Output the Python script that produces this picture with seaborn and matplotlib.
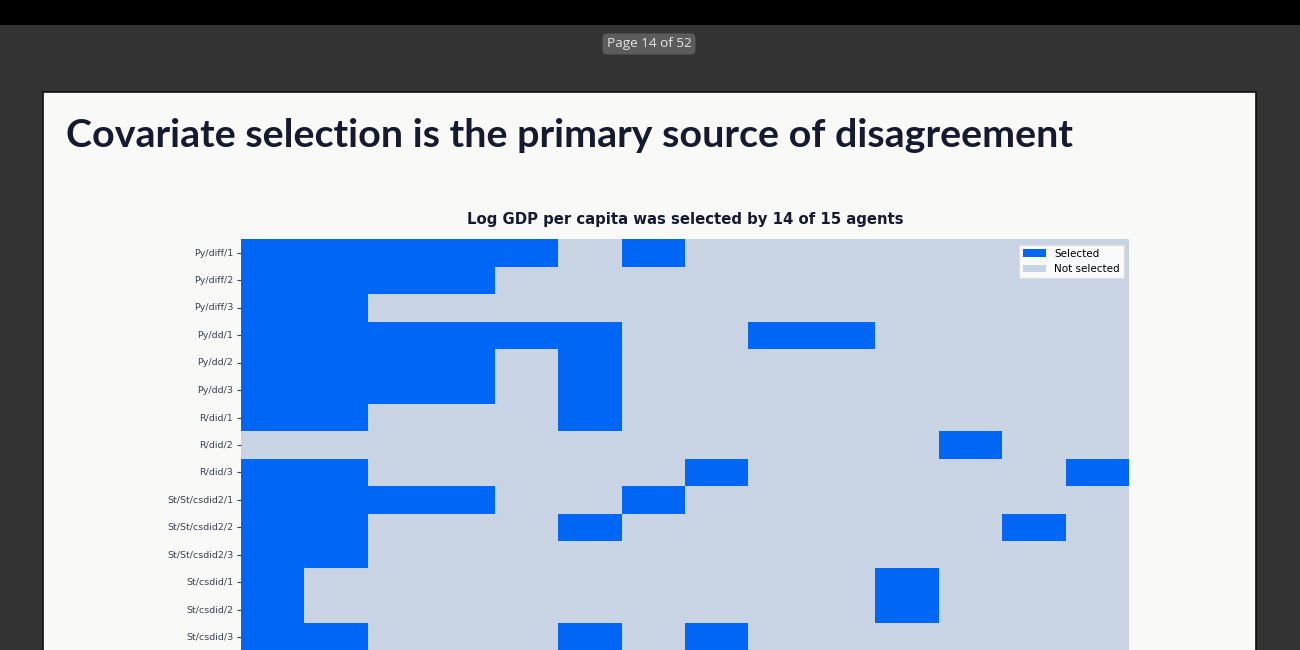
import matplotlib
matplotlib.use("Agg")
import matplotlib.pyplot as plt
from matplotlib.patches import Rectangle, Patch
import pandas as pd
import seaborn as sns

# Data: which covariates each agent selected (1 = selected)
agents = ["Py/diff/1", "Py/diff/2", "Py/diff/3",
          "Py/dd/1", "Py/dd/2", "Py/dd/3",
          "R/did/1", "R/did/2", "R/did/3",
          "St/St/csdid2/1", "St/St/csdid2/2", "St/St/csdid2/3",
          "St/csdid/1", "St/csdid/2", "St/csdid/3"]
covariates = ["Log GDP per capita", "Population", "Trade openness", "Inflation",
              "Urbanization", "Democracy score", "Education", "Government spending",
              "FDI inflows", "Unemployment", "Credit to GDP", "Oil rents",
              "Region FE", "Year trend"]
selection = [
    [1, 1, 1, 1, 1, 0, 1, 0, 0, 0, 0, 0, 0, 0],
    [1, 1, 1, 1, 0, 0, 0, 0, 0, 0, 0, 0, 0, 0],
    [1, 1, 0, 0, 0, 0, 0, 0, 0, 0, 0, 0, 0, 0],
    [1, 1, 1, 1, 1, 1, 0, 0, 1, 1, 0, 0, 0, 0],
    [1, 1, 1, 1, 0, 1, 0, 0, 0, 0, 0, 0, 0, 0],
    [1, 1, 1, 1, 0, 1, 0, 0, 0, 0, 0, 0, 0, 0],
    [1, 1, 0, 0, 0, 1, 0, 0, 0, 0, 0, 0, 0, 0],
    [0, 0, 0, 0, 0, 0, 0, 0, 0, 0, 0, 1, 0, 0],
    [1, 1, 0, 0, 0, 0, 0, 1, 0, 0, 0, 0, 0, 1],
    [1, 1, 1, 1, 0, 0, 1, 0, 0, 0, 0, 0, 0, 0],
    [1, 1, 0, 0, 0, 1, 0, 0, 0, 0, 0, 0, 1, 0],
    [1, 1, 0, 0, 0, 0, 0, 0, 0, 0, 0, 0, 0, 0],
    [1, 0, 0, 0, 0, 0, 0, 0, 0, 0, 1, 0, 0, 0],
    [1, 0, 0, 0, 0, 0, 0, 0, 0, 0, 1, 0, 0, 0],
    [1, 1, 0, 0, 0, 1, 0, 1, 0, 0, 0, 0, 0, 0],
]

blue = "#0066F5"
grey = "#C8D4E3"
ink = "#161A30"

df = pd.DataFrame(selection, index=agents, columns=covariates)
n_sel = df[covariates[0]].sum()

fig = plt.figure(figsize=(13, 6.5), dpi=100, facecolor="#333333")

# viewer chrome + slide (behind the axes)
fig.add_artist(Rectangle((0, 1 - 25 / 650), 1, 25 / 650, transform=fig.transFigure,
                         facecolor="black", edgecolor="none", zorder=-10))
fig.add_artist(Rectangle((43 / 1300, -0.01), 1213 / 1300, (650 - 92) / 650 + 0.01,
                         transform=fig.transFigure, facecolor="#F9F9F8",
                         edgecolor="#111111", linewidth=1.2, zorder=-10))
fig.text(649 / 1300, 1 - 44 / 650, "Page 14 of 52", ha="center", va="center",
         fontsize=9.7, color="#E6E6E6", family="Open Sans",
         bbox=dict(boxstyle="round,pad=0.3,rounding_size=0.35", facecolor="#5C5C5C",
                   edgecolor="none"))
fig.text(66 / 1300, 1 - 147 / 650, "Covariate selection is the primary source of disagreement",
         ha="left", va="baseline", fontsize=28.35, fontweight="bold", color=ink, family="Lato")

ax = fig.add_axes([241 / 1300, -0.7 / 650, 888 / 1300, 411.4 / 650])
ax.set_zorder(5)
sns.heatmap(df, ax=ax, cmap=[grey, blue], vmin=0, vmax=1, cbar=False)
ax.set_title(f"Log GDP per capita was selected by {n_sel} of {len(agents)} agents",
             fontsize=10.7, fontweight="bold", color=ink, pad=11)
ax.tick_params(axis="y", labelsize=6.8, colors="#3A4256", length=3, width=0.8,
               pad=2.5, rotation=0)
# covariate labels sit below the visible page area
ax.tick_params(axis="x", bottom=False, labelbottom=False)
ax.set_ylabel("")
ax.set_xlabel("")

handles = [Patch(facecolor=blue, label="Selected"), Patch(facecolor=grey, label="Not selected")]
ax.legend(handles=handles, loc="upper right", fontsize=7.5, frameon=True, fancybox=False,
          framealpha=0.9, edgecolor="#DDDDDD", borderpad=0.4, handlelength=2.2)

fig.savefig("out.png", dpi=100, facecolor=fig.get_facecolor())
